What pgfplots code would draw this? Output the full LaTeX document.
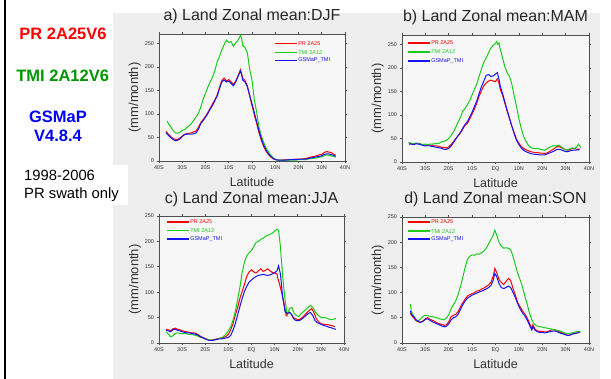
\documentclass[border=0pt]{standalone}
\usepackage{pgfplots}
\pgfplotsset{compat=1.18}
\usepackage{fontspec}
\setmainfont{Liberation Sans}
\definecolor{cred}{RGB}{255,0,0}
\definecolor{cgreen}{RGB}{25,205,25}
\definecolor{cblue}{RGB}{20,20,245}
\definecolor{tgreen}{RGB}{0,150,0}
\definecolor{tblue}{RGB}{0,0,255}
\definecolor{bggray}{RGB}{238,238,238}
\definecolor{plotbg}{RGB}{247,247,247}
\definecolor{axgray}{RGB}{80,80,80}
\pgfplotsset{panel/.style={
  scale only axis, anchor=south west,
  xmin=-40, xmax=40, ymin=0,
  xtick={-40,-30,...,40},
  xticklabels={40S,30S,20S,10S,EQ,10N,20N,30N,40N},
  ytick={0,50,...,250},
  axis line style={axgray, line width=0.9pt},
  tick style={axgray, line width=0.6pt},
  tick align=outside, major tick length=2pt,
  ticklabel style={font=\fontsize{5.5}{6}\selectfont, text=black!80},
  /pgf/number format/assume math mode=true,
  xticklabel style={yshift=1pt},
  yticklabel style={xshift=0.5pt},
  axis background/.style={fill=plotbg},
  title style={font=\fontsize{16}{18}\selectfont, text=black!85, at={(axis description cs:0.5,1)}, anchor=base, yshift=7pt},
  xlabel={Latitude},
  xlabel style={font=\fontsize{12.5}{14}\selectfont, text=black!80, at={(axis description cs:0.5,0)}, anchor=base, yshift=-26pt},
  ylabel={(mm/month)},
  ylabel style={font=\fontsize{13}{14}\selectfont, text=black!80, at={(axis description cs:-0.13,0.5)}, anchor=center},
  every axis plot/.append style={line width=1pt, mark=none},
}}
% legend: #1 x start, #2 x end, #3 #4 #5 row values
\newcommand\panellegend[5]{%
  \addplot[cred, line width=1.4pt, forget plot] coordinates {(#1,#3) (#2,#3)};
  \addplot[cgreen, line width=1.4pt, forget plot] coordinates {(#1,#4) (#2,#4)};
  \addplot[cblue, line width=1.4pt, forget plot] coordinates {(#1,#5) (#2,#5)};
  \node[anchor=west, inner sep=1pt, font=\fontsize{5.5}{6}\selectfont] at (axis cs:#2,#3) {\textcolor{cred}{PR 2A25}};
  \node[anchor=west, inner sep=1pt, font=\fontsize{5.5}{6}\selectfont] at (axis cs:#2,#4) {\textcolor{cgreen}{TMI 2A12}};
  \node[anchor=west, inner sep=1pt, font=\fontsize{5.5}{6}\selectfont] at (axis cs:#2,#5) {\textcolor{cblue}{GSMaP\_TMI}};
}
\begin{document}
\begin{tikzpicture}
\fill[white] (0pt,0pt) rectangle (611pt,379pt);
\path[use as bounding box] (0pt,0pt) rectangle (611pt,379pt);
\fill[bggray] (113pt,0pt) rectangle (600pt,366pt);
\fill[white] (20pt,174pt) rectangle (128pt,214pt);
\draw[black, line width=1.8pt] (5pt,0pt) -- (5pt,379pt);
\node[text=cred, font=\bfseries\fontsize{16.5}{18}\selectfont, anchor=base] at (63pt,339.7pt) {PR 2A25V6};
\node[text=tgreen, font=\bfseries\fontsize{16.5}{18}\selectfont, anchor=base] at (62.7pt,297.3pt) {TMI 2A12V6};
\node[text=tblue, font=\bfseries\fontsize{16.5}{18}\selectfont, anchor=base] at (58pt,256.3pt) {GSMaP};
\node[text=tblue, font=\bfseries\fontsize{16.5}{18}\selectfont, anchor=base] at (58pt,237.3pt) {V4.8.4};
\node[text=black, font=\fontsize{14.8}{16}\selectfont, anchor=base west, inner sep=0pt] at (24pt,198.3pt) {1998-2006};
\node[text=black, font=\fontsize{14.8}{16}\selectfont, anchor=base west, inner sep=0pt] at (24pt,180.7pt) {PR swath only};

% a) DJF
\begin{axis}[panel, at={(159pt,218pt)}, width=186pt, height=127pt, ymax=270,
  title={a) Land Zonal mean:DJF}]
\addplot[cred] coordinates {(-37,63) (-36,57) (-35,52) (-34,48) (-33,46) (-32,46) (-31,49) (-30,53) (-29,57) (-28,58) (-27,59) (-26,60) (-25,62) (-24,64) (-23,72) (-22,82) (-21,88) (-20,95) (-19,103) (-18,112) (-17,121) (-16,130) (-15,140) (-14,156) (-13,171) (-12,176) (-11,170) (-10,173) (-9,168) (-8,163) (-7,170) (-6,181) (-5,194) (-4.5,186) (-4,176) (-3,171) (-2,160) (-1,138) (0,118) (1,98) (2,80) (3,60) (4,44) (5,31) (6,21) (7,14) (8,9) (9,5) (10,3) (11,2) (13,2) (15,3) (17,3) (19,4) (21,4) (23,5) (25,8) (27,10) (29,13) (30,14) (31,18) (32,20) (33,19) (34,18) (35,15) (36,12)};
\addplot[cgreen] coordinates {(-36.5,85) (-36,80) (-35,73) (-34,65) (-33,60) (-32,59) (-31,61) (-30,65) (-29,67) (-28,71) (-27,75) (-26,80) (-25,87) (-24,94) (-23,102) (-22,115) (-21,132) (-20,144) (-19,157) (-18,168) (-17,178) (-16,192) (-15,210) (-14,222) (-13,236) (-12,247) (-11,257) (-10,252) (-9,254) (-8,244) (-7,251) (-6,257) (-5,267) (-4.5,262) (-4,246) (-3,241) (-2,230) (-1,195) (0,172) (1,130) (2,104) (3,72) (4,53) (5,40) (6,28) (7,20) (8,13) (9,7) (10,4) (11,2) (13,1) (15,2) (17,2) (19,2) (21,3) (23,3) (25,5) (27,6) (29,8) (30,9) (31,11) (32,13) (33,12) (34,11) (35,10) (36,8)};
\addplot[cblue] coordinates {(-37,60) (-36,55) (-35,50) (-34,46) (-33,43) (-32,44) (-31,47) (-30,52) (-29,56) (-28,57) (-27,57) (-26,57) (-25,58) (-24,60) (-23,68) (-22,80) (-21,86) (-20,93) (-19,101) (-18,110) (-17,118) (-16,128) (-15,138) (-14,153) (-13,168) (-12,172) (-11,168) (-10,170) (-9,165) (-8,160) (-7,168) (-6,180) (-5,191) (-4.5,184) (-4,172) (-3,168) (-2,158) (-1,140) (0,122) (1,103) (2,84) (3,64) (4,48) (5,34) (6,24) (7,16) (8,10) (9,6) (10,3) (11,2) (13,2) (15,2) (17,3) (19,3) (21,4) (23,4) (25,6) (27,8) (29,10) (30,11) (31,14) (32,15) (33,15) (34,14) (35,12) (36,10)};
\panellegend{9.9}{19.4}{250}{231}{214}
\end{axis}

% b) MAM
\begin{axis}[panel, at={(402pt,217pt)}, width=187pt, height=127pt, ymax=270,
  title={b) Land Zonal mean:MAM}]
\addplot[cred] coordinates {(-37,40) (-36,39) (-35,38) (-34,39) (-33,40) (-32,38) (-31,36) (-30,36) (-29,37) (-28,36) (-27,35) (-26,34) (-25,34) (-24,33) (-23,31) (-22,31) (-21,30) (-20,32) (-19,37) (-18,43) (-17,50) (-16,56) (-15,62) (-14,70) (-13,78) (-12,82) (-11,92) (-10,102) (-9,113) (-8,125) (-7,140) (-6,152) (-5,162) (-4,168) (-3,172) (-2,174) (-1,172) (0,171) (0.8,177) (1.5,168) (2,155) (3,142) (4,125) (5,108) (6,92) (7,76) (8,62) (9,48) (10,40) (11,33) (12,29) (13,26) (14,24) (15,22) (16,21) (17,20) (18,20) (19,19) (20,19) (21,18) (22,19) (23,22) (24,25) (25,28) (26,32) (27,33) (28,31) (29,28) (30,26) (31,25) (32,27) (33,29) (34,28) (35,27) (36,28)};
\addplot[cgreen] coordinates {(-37.3,41) (-36,40) (-35,39) (-34,40) (-33,39) (-32,38) (-31,37) (-30,38) (-29,37) (-28,38) (-27,38) (-26,39) (-25,39) (-24,40) (-23,43) (-22,44) (-21,46) (-20,50) (-19,56) (-18,64) (-17,74) (-16,85) (-15,95) (-14,108) (-13,114) (-12,122) (-11,131) (-10,143) (-9,155) (-8,166) (-7,182) (-6,198) (-5,212) (-4,221) (-3,232) (-2,242) (-1,248) (0,252) (0.5,256) (1,250) (1.5,253) (2,240) (3,222) (4,202) (5,190) (6,182) (7,165) (8,140) (9,118) (10,92) (11,72) (12,55) (13,44) (14,36) (15,31) (16,29) (17,28) (18,29) (19,27) (20,26) (21,25) (22,28) (23,31) (24,33) (25,35) (26,34) (27,36) (28,33) (29,29) (30,26) (31,26) (32,28) (33,30) (34,29) (35,34) (35.5,38) (36.5,31)};
\addplot[cblue] coordinates {(-37,38) (-36,38) (-35,37) (-34,39) (-33,38) (-32,37) (-31,35) (-30,34) (-29,35) (-28,34) (-27,33) (-26,32) (-25,31) (-24,30) (-23,29) (-22,27) (-21,27) (-20,29) (-19,34) (-18,41) (-17,49) (-16,56) (-15,63) (-14,72) (-13,80) (-12,86) (-11,96) (-10,106) (-9,118) (-8,130) (-7,146) (-6,160) (-5,172) (-4,184) (-3,186) (-2,182) (-1,183) (0,187) (0.8,190) (1.5,176) (2,162) (3,146) (4,128) (5,110) (6,93) (7,76) (8,60) (9,46) (10,37) (11,30) (12,25) (13,22) (14,20) (15,18) (16,17) (17,16) (18,16) (19,15) (20,15) (21,15) (22,17) (23,19) (24,21) (25,23) (26,26) (27,27) (28,26) (29,24) (30,22) (31,22) (32,24) (33,25) (34,25) (35,26) (36,26)};
\panellegend{-37.4}{-28}{253}{234}{215}
\end{axis}

% c) JJA
\begin{axis}[panel, at={(159pt,36pt)}, width=185pt, height=127pt, ymax=250,
  title={c) Land Zonal mean:JJA}, title style={yshift=-1pt}]
\addplot[cred] coordinates {(-37,27) (-36,26) (-35,24) (-34,28) (-33,29) (-32,27) (-31,26) (-30,24) (-29,23) (-28,22) (-27,21) (-26,20) (-25,20) (-24,19) (-23,16) (-22,13) (-21,11) (-20,9) (-19,7) (-18,5) (-17,6) (-16,7) (-15,8) (-14,9) (-13,10) (-12,11) (-11,13) (-10,17) (-9,26) (-8,38) (-7,55) (-6,70) (-5,88) (-4,102) (-3,116) (-2,132) (-1,140) (0,144) (1,140) (2,138) (3,142) (4,146) (5,141) (6,143) (7,146) (8,142) (9,139) (10,138) (11,136) (11.5,125) (12,118) (13,100) (14,80) (15,54) (16,62) (17,58) (18,50) (19,48) (20,46) (21,47) (22,50) (23,55) (24,60) (25,64) (26,68) (27,60) (28,48) (29,42) (30,38) (31,37) (32,36) (33,36) (34,35) (35,34) (36,32)};
\addplot[cgreen] coordinates {(-37,22) (-36,18) (-35,12) (-34,14) (-33,19) (-32,20) (-31,19) (-30,18) (-29,19) (-28,18) (-27,17) (-26,17) (-25,16) (-24,15) (-23,13) (-22,11) (-21,10) (-20,8) (-19,7) (-18,6) (-17,5) (-16,6) (-15,7) (-14,9) (-13,10) (-12,13) (-11,18) (-10,24) (-9,32) (-8,45) (-7,62) (-6,85) (-5,110) (-4,140) (-3,160) (-2,172) (-1,178) (0,182) (1,190) (2,198) (3,200) (4,204) (5,206) (6,210) (7,212) (8,214) (9,216) (10,220) (11,224) (11.7,222) (12.5,190) (13.5,130) (14.5,85) (15.5,55) (16.5,68) (17.5,70) (18.5,58) (19.5,54) (20.5,52) (21.5,58) (22.5,62) (23.5,66) (24.5,70) (25.5,74) (26.5,70) (27.5,62) (28.5,56) (29.5,52) (30.5,50) (31.5,50) (32.5,49) (33.5,47) (34.5,46) (35.5,47) (36.5,48)};
\addplot[cblue] coordinates {(-37,25) (-36,24) (-35,22) (-34,26) (-33,27) (-32,25) (-31,24) (-30,22) (-29,21) (-28,20) (-27,20) (-26,19) (-25,18) (-24,17) (-23,15) (-22,12) (-21,10) (-20,8) (-19,6) (-18,5) (-17,5) (-16,6) (-15,7) (-14,8) (-13,8) (-12,9) (-11,10) (-10,11) (-9,15) (-8,25) (-7,38) (-6,55) (-5,72) (-4,88) (-3,102) (-2,112) (-1,120) (0,124) (1,128) (2,131) (3,133) (4,134) (5,135) (6,134) (7,133) (8,134) (9,136) (10,138) (11,142) (11.7,152) (12.5,136) (13.5,90) (14.5,62) (15.5,58) (16.5,60) (17.5,55) (18.5,46) (19.5,44) (20.5,44) (21.5,46) (22.5,50) (23.5,54) (24.5,58) (25.5,60) (26.5,54) (27.5,44) (28.5,40) (29.5,38) (30.5,36) (31.5,34) (32.5,33) (33.5,31) (34.5,30) (35.5,28) (36.5,27)};
\panellegend{-36.5}{-27}{238}{222}{205}
\end{axis}

% d) SON
\begin{axis}[panel, at={(402pt,36pt)}, width=187pt, height=126pt, ymax=250,
  title={d) Land Zonal mean:SON}]
\addplot[cred] coordinates {(-36.4,60) (-36,55) (-35,50) (-34,44) (-33,42) (-32,41) (-31,44) (-30,48) (-29,50) (-28,47) (-27,45) (-26,43) (-25,40) (-24,38) (-23,37) (-22,35) (-21,36) (-20,42) (-19,52) (-18,55) (-17,57) (-16,62) (-15,72) (-14,80) (-13,87) (-12,93) (-11,96) (-10,98) (-9,100) (-8,103) (-7,104) (-6,107) (-5,109) (-4,112) (-3,115) (-2,120) (-1,132) (-0.3,148) (0.5,140) (1.5,126) (2.5,120) (3.5,116) (4.5,122) (5.5,128) (6.5,124) (7.5,108) (8.5,95) (9.5,80) (10.5,72) (11.5,64) (12.5,58) (13.5,50) (14.5,40) (15.5,28) (16,36) (17,27) (18,24) (19,23) (20,23) (21,22) (22,22) (23,24) (24,26) (25,27) (26,25) (27,23) (28,21) (29,19) (30,17) (31,15) (32,16) (33,18) (34,19) (35,20) (36,21)};
\addplot[cgreen] coordinates {(-36.4,77) (-36,62) (-35,54) (-34,46) (-33,44) (-32,48) (-31,53) (-30,55) (-29,54) (-28,53) (-27,52) (-26,51) (-25,50) (-24,48) (-23,47) (-22,46) (-21,50) (-20,56) (-19,68) (-18,76) (-17,84) (-16,96) (-15,112) (-14,130) (-13,150) (-12,166) (-11,172) (-10,175) (-9,174) (-8,177) (-7,176) (-6,179) (-5,182) (-4,188) (-3,196) (-2,205) (-1,214) (-0.3,224) (0.5,214) (1.5,200) (2.5,192) (3.5,188) (4.5,189) (5.5,188) (6.5,185) (7.5,172) (8.5,155) (9.5,138) (10.5,126) (11.5,112) (12.5,94) (13.5,78) (14.5,60) (15.5,46) (16.5,38) (17.5,34) (18.5,33) (19.5,32) (20.5,31) (21.5,30) (22.5,29) (23.5,28) (24.5,27) (25.5,26) (26.5,25) (27.5,24) (28.5,22) (29.5,20) (30.5,18) (31.5,19) (32.5,20) (33.5,21) (34.5,22) (35.5,23) (36.5,22)};
\addplot[cblue] coordinates {(-36.4,64) (-36,57) (-35,52) (-34,46) (-33,43) (-32,41) (-31,43) (-30,47) (-29,48) (-28,45) (-27,42) (-26,40) (-25,38) (-24,36) (-23,34) (-22,32) (-21,33) (-20,38) (-19,46) (-18,50) (-17,52) (-16,57) (-15,66) (-14,76) (-13,83) (-12,89) (-11,92) (-10,95) (-9,97) (-8,99) (-7,101) (-6,103) (-5,105) (-4,107) (-3,110) (-2,114) (-1,124) (-0.3,138) (0.5,132) (1.5,118) (2.5,110) (3.5,108) (4.5,110) (5.5,113) (6.5,110) (7.5,100) (8.5,90) (9.5,78) (10.5,68) (11.5,60) (12.5,54) (13.5,46) (14.5,36) (15.5,26) (16,32) (17,25) (18,22) (19,21) (20,21) (21,20) (22,21) (23,22) (24,23) (25,24) (26,23) (27,21) (28,19) (29,18) (30,16) (31,15) (32,16) (33,18) (34,19) (35,20) (36,21)};
\panellegend{-37.4}{-28}{240}{222}{206}
\end{axis}
\end{tikzpicture}
\end{document}
